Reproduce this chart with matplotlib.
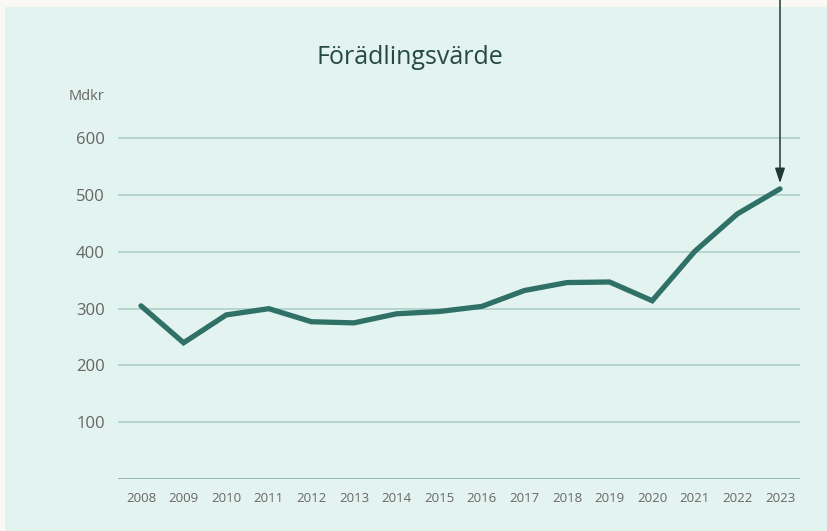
import matplotlib
matplotlib.use("Agg")
import matplotlib.pyplot as plt
from matplotlib.patches import Rectangle

years = [2008, 2009, 2010, 2011, 2012, 2013, 2014, 2015, 2016, 2017, 2018, 2019, 2020, 2021, 2022, 2023]
values = [305, 240, 289, 300, 277, 275, 291, 295, 304, 332, 346, 347, 314, 401, 467, 511]
y_ticks = [100, 200, 300, 400, 500, 600]
title = "Förädlingsvärde"
unit = "Mdkr"

plt.rcParams['font.family'] = ['Open Sans', 'DejaVu Sans']

W, H = 827, 531
fig = plt.figure(figsize=(W / 100, H / 100), dpi=100)
fig.patch.set_facecolor('#f9f8f5')
bg = Rectangle((5 / W, 0), 1 - 5 / W, 1 - 7 / H, transform=fig.transFigure,
               facecolor='#e3f3ef', edgecolor='none', zorder=-10)
fig.add_artist(bg)

ax_left, ax_right = 118, 800
ax_bottom, ax_top = 479, 127
ax = fig.add_axes([ax_left / W, 1 - ax_bottom / H, (ax_right - ax_left) / W, (ax_bottom - ax_top) / H])
ax.set_facecolor('none')
ax.set_zorder(1)

step = (780 - 141) / 15
ax.set_xlim(years[0] - (141 - ax_left) / step, years[-1] + (ax_right - 780) / step)
ax.set_ylim(0, 620)

for t in y_ticks:
    ax.axhline(t, color='#a9cdc4', lw=1.1, zorder=1)
ax.axhline(0, color='#7fa89f', lw=1.8, zorder=1)

ax.plot(years, values, color='#2f7167', lw=3.8, solid_joinstyle='miter', solid_capstyle='round', zorder=3)

for s in ax.spines.values():
    s.set_visible(False)
ax.tick_params(length=0)
ax.set_yticks(y_ticks)
ax.set_yticklabels([str(t) for t in y_ticks], fontsize=12, color='#656565')
ax.tick_params(axis='y', pad=9.5)
ax.set_xticks(years)
ax.set_xticklabels([str(y) for y in years], fontsize=9.5, color='#686868')
ax.tick_params(axis='x', pad=9.5)

fig.text(86 / W, 1 - 97 / H, unit, fontsize=10.5, color='#656565', ha='center', va='center')
fig.text(410 / W, 1 - 57 / H, title, fontsize=18, color='#264a43', ha='center', va='center')

ax.annotate('', xy=(years[-1], values[-1] + 10), xycoords='data',
            xytext=(years[-1], 1.0), textcoords=('data', 'figure fraction'),
            arrowprops=dict(arrowstyle='-|>,head_length=0.9,head_width=0.3', color='#1f3a35', lw=1.1,
                            shrinkA=0, shrinkB=0),
            annotation_clip=False, zorder=5)

fig.savefig('out.png', dpi=100, facecolor=fig.get_facecolor())
